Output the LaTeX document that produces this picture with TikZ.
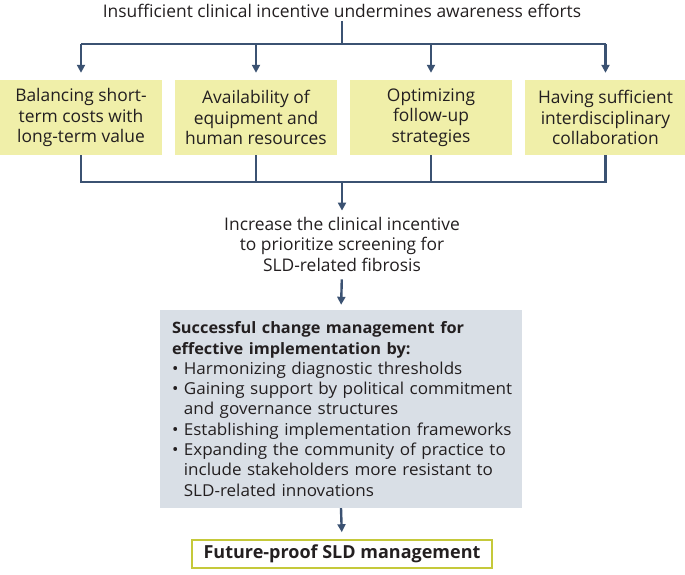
\documentclass[tikz,border=0pt]{standalone}
\usepackage{fontspec}
\setmainfont{Open Sans}
\newfontfamily\widefont{Open Sans}[FakeStretch=1.04]
\usetikzlibrary{arrows.meta}
\definecolor{linec}{HTML}{3B5272}
\definecolor{yellowc}{HTML}{F0EFA9}
\definecolor{grayc}{HTML}{D9DFE6}
\definecolor{greenc}{HTML}{C5C93A}
\definecolor{textc}{HTML}{231F20}
\tikzset{
  conn/.style={draw=linec, line width=2.4pt},
  arr/.style={conn, -{Triangle[length=8pt,width=8pt]}},
  ybox/.style={fill=yellowc, minimum width=162pt, minimum height=75pt, inner sep=0pt, align=center, text=textc,
    font=\fontsize{17.4}{20.5}\selectfont},
  plaintext/.style={inner sep=0pt, align=center, text=textc, font=\fontsize{17.4}{20.5}\selectfont},
  graybox/.style={fill=grayc, minimum width=362pt, minimum height=198pt, text width=338pt, inner sep=0pt,
    align=left, text=textc, font=\widefont\fontsize{16.4}{20.3}\selectfont},
  finalbox/.style={draw=greenc, line width=1.6pt, fill=white, minimum width=300pt, minimum height=28pt, inner sep=0pt,
    text=textc, font=\bfseries\fontsize{18}{20}\selectfont}
}
\begin{document}
\begin{tikzpicture}[x=1pt,y=-1pt]
\useasboundingbox (0,0) rectangle (685,575);
\node[plaintext] (top) at (342,11) {Insufficient clinical incentive undermines awareness efforts};
\node[ybox] (b1) at (81,117.5) {Balancing short-\\term costs with\\long-term value};
\node[ybox] (b2) at (256,117.5) {Availability of\\equipment and\\human resources};
\node[ybox] (b3) at (431,117.5) {Optimizing\\follow-up\\strategies};
\node[ybox] (b4) at (605.5,117.5) {Having sufficient\\interdisciplinary\\collaboration};
\coordinate (split) at (342,44);
\coordinate (join) at (342,182);
\draw[conn] (top.south) ++(0,3) -- (split);
\draw[conn] (split -| b1.north) -- (split -| b4.north);
\foreach \b in {b1,b2,b3,b4} {
  \draw[arr, shorten >=7pt] (split -| \b.north) -- (\b.north);
}
\draw[conn] (b1.south) -- (b1.south |- join) -- (b4.south |- join) -- (b4.south);
\draw[conn] (b2.south) -- (b2.south |- join);
\draw[conn] (b3.south) -- (b3.south |- join);
\node[plaintext] (mid) at (342,244) {Increase the clinical incentive\\to prioritize screening for\\SLD-related fibrosis};
\draw[arr, shorten >=6pt] (join) -- (mid.north);
\node[graybox] (gray) at (341,409) {{\bfseries\fontsize{15.7}{20.3}\selectfont \mbox{Successful change management for}\\\mbox{effective implementation by:}}\\
\mbox{\textbullet\ Harmonizing diagnostic thresholds}\\
\mbox{\textbullet\ Gaining support by political commitment}\\
\mbox{\phantom{\textbullet\ }and governance structures}\\
\mbox{\textbullet\ Establishing implementation frameworks}\\
\mbox{\textbullet\ Expanding the community of practice to}\\
\mbox{\phantom{\textbullet\ }include stakeholders more resistant to}\\
\mbox{\phantom{\textbullet\ }SLD-related innovations}};
\draw[arr, shorten >=5pt, shorten <=8pt] (mid.south) -- (gray.north);
\node[finalbox] (final) at (342,554) {Future-proof SLD management};
\draw[arr, shorten >=7pt] (gray.south) -- (final.north);
\end{tikzpicture}
\end{document}
